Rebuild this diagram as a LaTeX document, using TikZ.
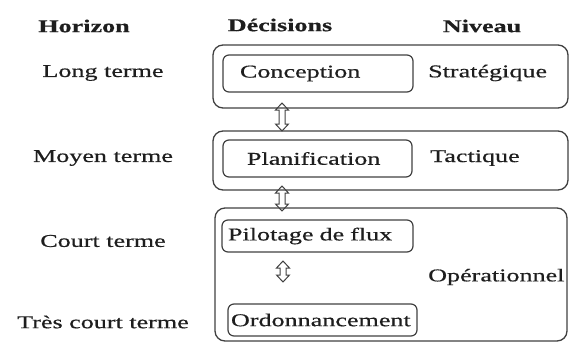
\documentclass[tikz,border=0pt]{standalone}
\usepackage{fontspec}
\setmainfont{Liberation Serif}[FakeStretch=1.45, FakeBold=0.6]
\usetikzlibrary{calc}
\definecolor{ln}{HTML}{404040}
\definecolor{tx}{HTML}{1E1E1E}
\begin{document}
\begin{tikzpicture}[x=1pt,y=-1pt,
  every node/.style={text=tx, font=\fontsize{18}{20}\selectfont},
  hdr/.style={font=\fontsize{18}{20}\selectfont\bfseries},
  obox/.style={draw=ln, line width=1.3pt, rounded corners=10pt},
  ibox/.style={draw=ln, line width=1.2pt, rounded corners=6pt, align=left, inner ysep=0pt},
  lvl/.style={anchor=west, inner xsep=0pt},
  arr/.style={draw=ln, line width=1pt, line join=miter}
]
\useasboundingbox (0,0) rectangle (569,343);
% headers
\node[hdr] (hHor) at (84,26) {Horizon};
\node[hdr] (hDec) at (280,25) {Décisions};
\node[hdr] (hNiv) at (482,26) {Niveau};
% horizons
\node (lt) at (103,73) {Long terme};
\node (mt) at (103,158) {Moyen terme};
\node (ct) at (103,241) {Court terme};
\node (tct) at (103,322) {Très court terme};
% outer boxes
\draw[obox] (213,45) rectangle (568,108);
\draw[obox] (213,131) rectangle (568,190);
\draw[obox] (215,208) rectangle (567,341);
% inner boxes
\node[ibox, inner xsep=17pt, text width=156pt, minimum height=37pt] (conc) at (318,73.5) {Conception};
\node[ibox, inner xsep=24pt, text width=141pt, minimum height=37pt] (plan) at (317.5,158.5) {Planification};
\node[ibox, inner xsep=6pt, text width=179pt, minimum height=32pt] (pil) at (317.5,236) {Pilotage de flux};
\node[ibox, inner xsep=3pt, text width=183pt, minimum height=32pt] (ord) at (322.5,320) {Ordonnancement};
% levels
\node[lvl] (strat) at (428,73) {Stratégique};
\node[lvl] (tact) at (430,158) {Tactique};
\node[lvl] (oper) at (428,277) {Opérationnel};
% arrows
\coordinate (a1t) at (282,103);
\coordinate (a1b) at (282,131);
\coordinate (a2t) at (282,186);
\coordinate (a2b) at (282,211);
\coordinate (a3t) at (283,261);
\coordinate (a3b) at (283,282);
\foreach \t/\b in {a1t/a1b,a2t/a2b,a3t/a3b}{
  \draw[arr] (\t) -- ++(6.5,7) -- ++(-3.5,0) -- ($(\b)+(3,-7)$) -- ++(3.5,0) -- (\b)
    -- ++(-6.5,-7) -- ++(3.5,0) -- ($(\t)+(-3,7)$) -- ++(-3.5,0) -- cycle;
}
\end{tikzpicture}
\end{document}
